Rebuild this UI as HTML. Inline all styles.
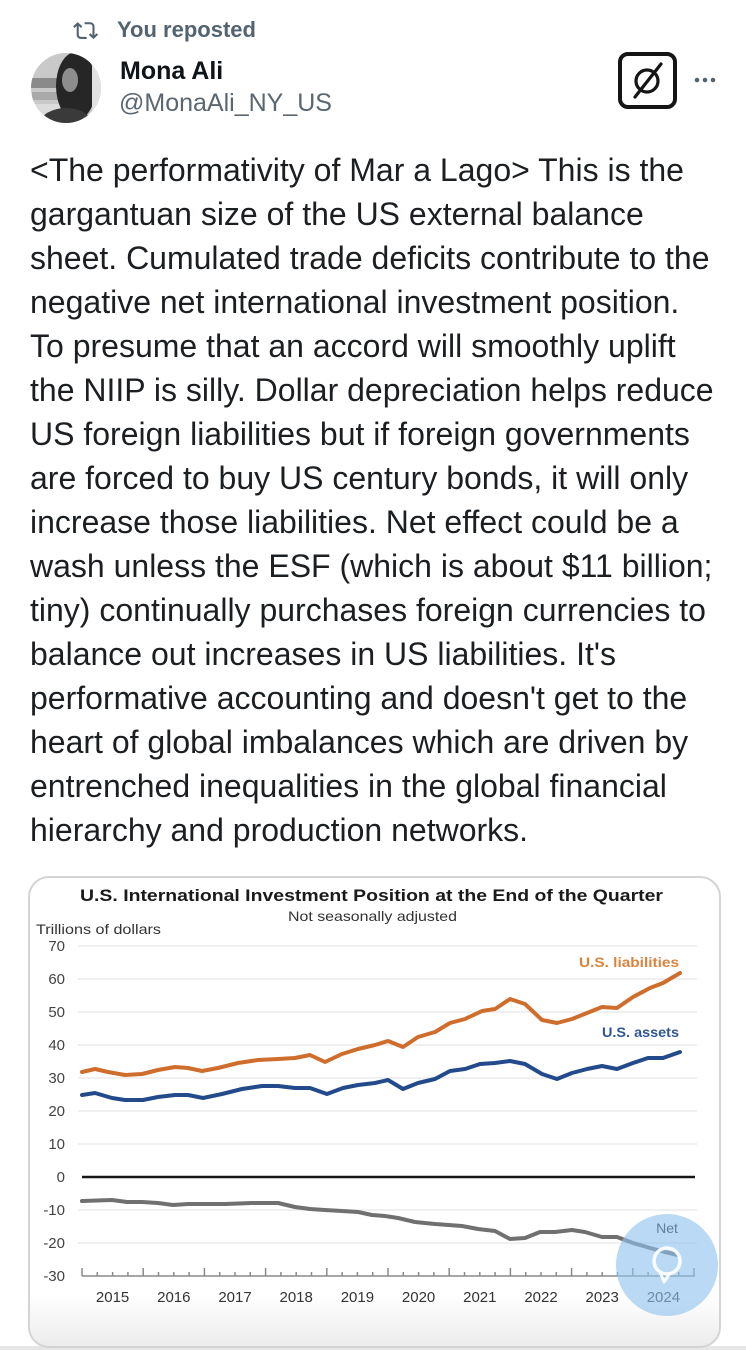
<!DOCTYPE html>
<html>
<head>
<meta charset="utf-8">
<style>
  html,body{margin:0;padding:0;background:#fff;}
  #root{position:relative;width:746px;height:1350px;overflow:hidden;background:#fff;}
  svg{position:absolute;left:0;top:0;}
  .body{font-family:"Liberation Sans",Arial,sans-serif;font-size:32px;fill:#1c1f22;}
  .ch{font-family:"Liberation Sans",Arial,sans-serif;}
</style>
</head>
<body>
<div id="root">
<svg width="746" height="1350" viewBox="0 0 746 1350" xmlns="http://www.w3.org/2000/svg">
  <defs>
    <clipPath id="av"><circle cx="66" cy="88" r="35"/></clipPath>
    <linearGradient id="cardg" gradientUnits="userSpaceOnUse" x1="0" y1="1295" x2="0" y2="1347">
      <stop offset="0" stop-color="#ffffff"/>
      <stop offset="1" stop-color="#ececec"/>
    </linearGradient>
  </defs>

  <!-- Repost header -->
  <g transform="translate(73,18) scale(1.05)" fill="#536471">
    <path d="M4.5 3.88l4.432 4.14-1.364 1.46L5.5 7.55V16c0 1.1.896 2 2 2H13v2H7.5c-2.209 0-4-1.790-4-4V7.55L1.432 9.48.068 8.02 4.5 3.88zM16.5 6H11V4h5.5c2.209 0 4 1.79 4 4v8.45l2.068-1.93 1.364 1.46-4.432 4.14-4.432-4.14 1.364-1.46 2.068 1.93V8c0-1.1-.896-2-2-2z"/>
  </g>
  <text x="117" y="37" class="ch" font-size="22" font-weight="bold" fill="#536471">You reposted</text>

  <!-- Avatar -->
  <g clip-path="url(#av)">
    <rect x="30" y="52" width="72" height="72" fill="#c9c9c9"/>
    <rect x="30" y="78" width="30" height="10" fill="#8a8a8a"/>
    <rect x="32" y="92" width="26" height="8" fill="#a9a9a9"/>
    <rect x="30" y="104" width="30" height="20" fill="#dcdcdc"/>
    <ellipse cx="76" cy="86" rx="20" ry="34" fill="#262626"/>
    <ellipse cx="70" cy="80" rx="8" ry="12" fill="#8d8d8d"/>
    <ellipse cx="66" cy="124" rx="26" ry="16" fill="#3a3a3a"/>
    <rect x="92" y="60" width="12" height="60" fill="#e2e2e2"/>
  </g>

  <text x="120" y="79" class="ch" font-size="25" font-weight="bold" fill="#0f1419">Mona Ali</text>
  <text x="119" y="111" class="ch" font-size="25" fill="#5b6670">@MonaAli_NY_US</text>

  <!-- Grok icon -->
  <rect x="620" y="54" width="55" height="53" rx="8" fill="#fff" stroke="#151515" stroke-width="4"/>
  <circle cx="647" cy="81" r="11" fill="none" stroke="#151515" stroke-width="3.2"/>
  <line x1="635" y1="97" x2="661" y2="64" stroke="#151515" stroke-width="3.2" stroke-linecap="round"/>
  <circle cx="697" cy="80" r="2.3" fill="#536471"/>
  <circle cx="705" cy="80" r="2.3" fill="#536471"/>
  <circle cx="713" cy="80" r="2.3" fill="#536471"/>

  <!-- Body text -->
  <text class="body" x="30" y="181">&lt;The performativity of Mar a Lago&gt; This is the</text>
  <text class="body" x="30" y="225">gargantuan size of the US external balance</text>
  <text class="body" x="30" y="269">sheet. Cumulated trade deficits contribute to the</text>
  <text class="body" x="30" y="313">negative net international investment position.</text>
  <text class="body" x="30" y="357">To presume that an accord will smoothly uplift</text>
  <text class="body" x="30" y="401">the NIIP is silly. Dollar depreciation helps reduce</text>
  <text class="body" x="30" y="445">US foreign liabilities but if foreign governments</text>
  <text class="body" x="30" y="489">are forced to buy US century bonds, it will only</text>
  <text class="body" x="30" y="533">increase those liabilities. Net effect could be a</text>
  <text class="body" x="30" y="577">wash unless the ESF (which is about $11 billion;</text>
  <text class="body" x="30" y="621">tiny) continually purchases foreign currencies to</text>
  <text class="body" x="30" y="665">balance out increases in US liabilities. It's</text>
  <text class="body" x="30" y="709">performative accounting and doesn't get to the</text>
  <text class="body" x="30" y="753">heart of global imbalances which are driven by</text>
  <text class="body" x="30" y="797">entrenched inequalities in the global financial</text>
  <text class="body" x="30" y="841">hierarchy and production networks.</text>

  <!-- Chart card -->
  <rect x="0" y="1346" width="746" height="4" fill="#e6e6e6"/>
  <rect x="29" y="877" width="691" height="470" rx="20" fill="url(#cardg)" stroke="#d4d4d4" stroke-width="2"/>

  <text x="371.5" y="901" class="ch" font-size="17" font-weight="bold" fill="#1a1a1a" text-anchor="middle" textLength="583" lengthAdjust="spacingAndGlyphs">U.S. International Investment Position at the End of the Quarter</text>
  <text x="372.5" y="921" class="ch" font-size="14" fill="#333" text-anchor="middle" textLength="169" lengthAdjust="spacingAndGlyphs">Not seasonally adjusted</text>
  <text x="36" y="934" class="ch" font-size="14" fill="#333" textLength="125" lengthAdjust="spacingAndGlyphs">Trillions of dollars</text>

  <!-- gridlines -->
  <g stroke="#ebebeb" stroke-width="1.5">
    <line x1="78" y1="946" x2="697" y2="946"/>
    <line x1="78" y1="979" x2="697" y2="979"/>
    <line x1="78" y1="1012" x2="697" y2="1012"/>
    <line x1="78" y1="1045" x2="697" y2="1045"/>
    <line x1="78" y1="1078" x2="697" y2="1078"/>
    <line x1="78" y1="1111" x2="697" y2="1111"/>
    <line x1="78" y1="1144" x2="697" y2="1144"/>
    <line x1="78" y1="1210" x2="697" y2="1210"/>
    <line x1="78" y1="1243" x2="697" y2="1243"/>
  </g>
  <line x1="82" y1="1177" x2="695" y2="1177" stroke="#151515" stroke-width="2.5"/>

  <!-- y labels -->
  <g class="ch" font-size="15" fill="#444" text-anchor="end">
    <text x="65" y="951">70</text>
    <text x="65" y="984">60</text>
    <text x="65" y="1017">50</text>
    <text x="65" y="1050">40</text>
    <text x="65" y="1083">30</text>
    <text x="65" y="1116">20</text>
    <text x="65" y="1149">10</text>
    <text x="65" y="1182">0</text>
    <text x="65" y="1215">-10</text>
    <text x="65" y="1248">-20</text>
    <text x="65" y="1281">-30</text>
  </g>

  <!-- x axis -->
  <line x1="82" y1="1276" x2="695" y2="1276" stroke="#8a8a8a" stroke-width="1.5"/>
  <g stroke="#8a8a8a" stroke-width="1.5">
    <line x1="82" y1="1268" x2="82" y2="1276"/><line x1="97.3" y1="1272" x2="97.3" y2="1276"/><line x1="112.6" y1="1272" x2="112.6" y2="1276"/><line x1="127.9" y1="1272" x2="127.9" y2="1276"/>
    <line x1="143.2" y1="1268" x2="143.2" y2="1276"/><line x1="158.5" y1="1272" x2="158.5" y2="1276"/><line x1="173.8" y1="1272" x2="173.8" y2="1276"/><line x1="189.1" y1="1272" x2="189.1" y2="1276"/>
    <line x1="204.4" y1="1268" x2="204.4" y2="1276"/><line x1="219.7" y1="1272" x2="219.7" y2="1276"/><line x1="235" y1="1272" x2="235" y2="1276"/><line x1="250.3" y1="1272" x2="250.3" y2="1276"/>
    <line x1="265.6" y1="1268" x2="265.6" y2="1276"/><line x1="280.9" y1="1272" x2="280.9" y2="1276"/><line x1="296.2" y1="1272" x2="296.2" y2="1276"/><line x1="311.5" y1="1272" x2="311.5" y2="1276"/>
    <line x1="326.8" y1="1268" x2="326.8" y2="1276"/><line x1="342.1" y1="1272" x2="342.1" y2="1276"/><line x1="357.4" y1="1272" x2="357.4" y2="1276"/><line x1="372.7" y1="1272" x2="372.7" y2="1276"/>
    <line x1="388" y1="1268" x2="388" y2="1276"/><line x1="403.3" y1="1272" x2="403.3" y2="1276"/><line x1="418.6" y1="1272" x2="418.6" y2="1276"/><line x1="433.9" y1="1272" x2="433.9" y2="1276"/>
    <line x1="449.2" y1="1268" x2="449.2" y2="1276"/><line x1="464.5" y1="1272" x2="464.5" y2="1276"/><line x1="479.8" y1="1272" x2="479.8" y2="1276"/><line x1="495.1" y1="1272" x2="495.1" y2="1276"/>
    <line x1="510.4" y1="1268" x2="510.4" y2="1276"/><line x1="525.7" y1="1272" x2="525.7" y2="1276"/><line x1="541" y1="1272" x2="541" y2="1276"/><line x1="556.3" y1="1272" x2="556.3" y2="1276"/>
    <line x1="571.6" y1="1268" x2="571.6" y2="1276"/><line x1="586.9" y1="1272" x2="586.9" y2="1276"/><line x1="602.2" y1="1272" x2="602.2" y2="1276"/><line x1="617.5" y1="1272" x2="617.5" y2="1276"/>
    <line x1="632.8" y1="1268" x2="632.8" y2="1276"/><line x1="648.1" y1="1272" x2="648.1" y2="1276"/><line x1="663.4" y1="1272" x2="663.4" y2="1276"/><line x1="678.7" y1="1272" x2="678.7" y2="1276"/>
    <line x1="694" y1="1268" x2="694" y2="1276"/>
  </g>
  <g class="ch" font-size="15" fill="#333" text-anchor="middle">
    <text x="112.6" y="1302">2015</text>
    <text x="173.8" y="1302">2016</text>
    <text x="235" y="1302">2017</text>
    <text x="296.2" y="1302">2018</text>
    <text x="357.4" y="1302">2019</text>
    <text x="418.6" y="1302">2020</text>
    <text x="479.8" y="1302">2021</text>
    <text x="541" y="1302">2022</text>
    <text x="602.2" y="1302">2023</text>
    <text x="663.4" y="1302">2024</text>
  </g>

  <!-- series -->
  <polyline fill="none" stroke="#cf6e2c" stroke-width="4" stroke-linejoin="round" stroke-linecap="round"
    points="82,1072 95,1069 108,1072 125,1075 142,1074 158,1070 175,1067 188,1068 202,1071 218,1068 238,1063 258,1060 278,1059 295,1058 310,1055 325,1062 342,1054 358,1049 375,1045 388,1041 403,1047 418,1037 435,1032 450,1023 465,1019 482,1011 495,1009 510,999 525,1004 542,1020 557,1023 572,1019 587,1013 602,1007 617,1008 633,997 650,988 663,983 680,973"/>
  <polyline fill="none" stroke="#234b8b" stroke-width="4" stroke-linejoin="round" stroke-linecap="round"
    points="82,1095 95,1093 112,1098 125,1100 143,1100 158,1097 175,1095 188,1095 203,1098 222,1094 242,1089 262,1086 278,1086 295,1088 310,1088 327,1094 343,1088 358,1085 375,1083 388,1080 403,1089 418,1083 435,1079 450,1071 465,1069 480,1064 495,1063 510,1061 525,1064 542,1074 557,1079 572,1073 587,1069 602,1066 617,1069 633,1063 648,1058 663,1058 680,1052"/>
  <polyline fill="none" stroke="#707070" stroke-width="4" stroke-linejoin="round" stroke-linecap="round"
    points="82,1201 112,1200 127,1202 142,1202 158,1203 173,1205 188,1204 205,1204 225,1204 252,1203 278,1203 295,1207 310,1209 325,1210 342,1211 358,1212 372,1215 385,1216 398,1218 415,1222 435,1224 462,1226 478,1229 495,1231 510,1239 525,1238 540,1232 555,1232 572,1230 585,1232 602,1237 617,1237 633,1243 650,1248 665,1252 678,1255"/>

  <text x="679" y="967" class="ch" font-size="14" font-weight="bold" fill="#d8843f" text-anchor="end" textLength="100" lengthAdjust="spacingAndGlyphs">U.S. liabilities</text>
  <text x="679" y="1037" class="ch" font-size="14" font-weight="bold" fill="#2f5597" text-anchor="end" textLength="77" lengthAdjust="spacingAndGlyphs">U.S. assets</text>

  <!-- touch overlay circle -->
  <circle cx="667" cy="1265" r="51" fill="#8fc1ee" opacity="0.62"/>
  <text x="667" y="1233" class="ch" font-size="14" fill="#5d7f9e" text-anchor="middle">Net</text>
  <circle cx="667" cy="1261" r="13" fill="none" stroke="#ffffff" stroke-width="3.5" opacity="0.9"/>
  <path d="M660 1272 L664 1282 L670 1273" fill="none" stroke="#ffffff" stroke-width="3" stroke-linejoin="round" opacity="0.9"/>
</svg>
</div>
</body>
</html>
